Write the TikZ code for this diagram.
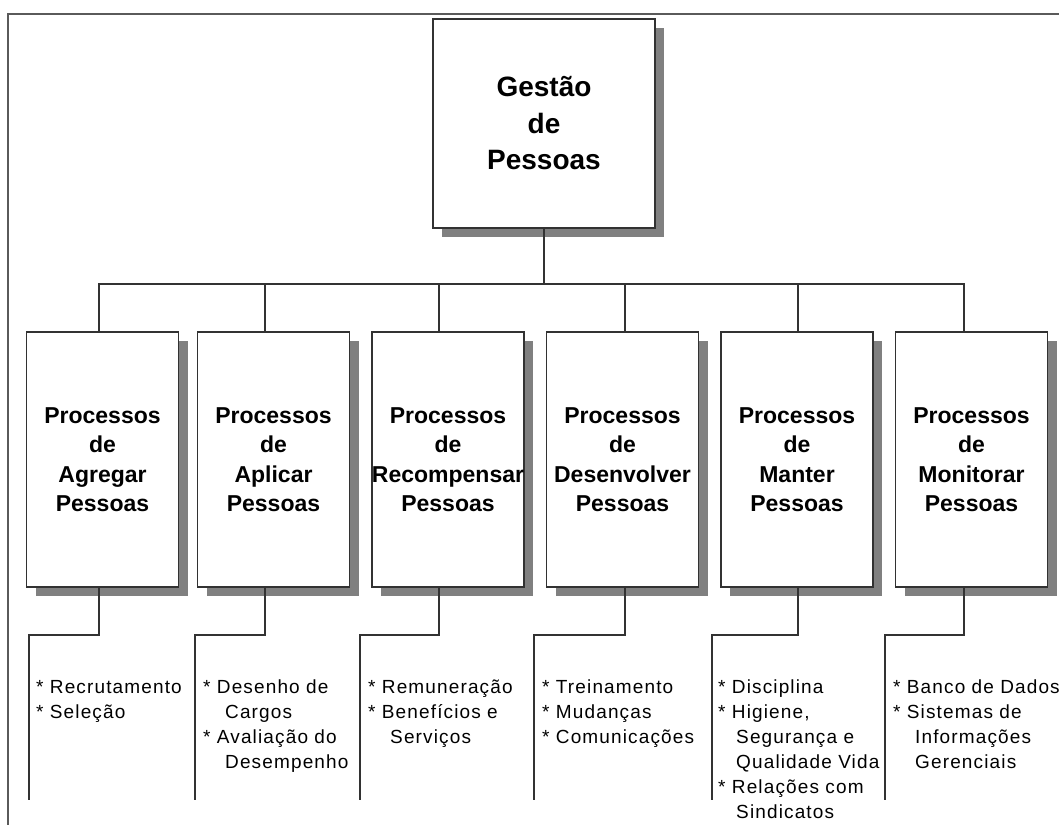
\documentclass[tikz,border=0pt]{standalone}
\usepackage{fontspec}
\setmainfont{Liberation Sans}
\newfontfamily\itemfont[LetterSpace=6]{Liberation Sans}
\usepackage{xcolor}
\usetikzlibrary{positioning,shadows}
\definecolor{linegray}{RGB}{50,50,50}
\definecolor{framegray}{RGB}{90,90,90}
\definecolor{shadegray}{RGB}{128,128,128}

\begin{document}
\begin{tikzpicture}[x=1pt, y=-1pt,
  topbox/.style={rectangle, draw=linegray, line width=1.9pt, fill=white, minimum width=222pt, minimum height=209pt, inner sep=0pt, align=center, font=\bfseries\fontsize{28}{36.5}\selectfont, drop shadow={shadow xshift=9pt, shadow yshift=-9pt, fill=shadegray, opacity=1}},
  procbox/.style={rectangle, draw=linegray, line width=1.9pt, fill=white, minimum width=152pt, minimum height=255pt, inner sep=0pt, align=center, font=\bfseries\fontsize{23}{29.5}\selectfont, drop shadow={shadow xshift=9pt, shadow yshift=-9pt, fill=shadegray, opacity=1}},
  items/.style={anchor=base west, text width=175pt, align=left, inner sep=0pt, font=\itemfont\fontsize{19}{25}\selectfont},
  link/.style={draw=linegray, line width=2pt}
]
\useasboundingbox (0,0) rectangle (1059,825);
% outer frame
\draw[framegray, line width=2pt] (1059,14) -- (8,14) -- (8,825);

\node[topbox] (gestao) at (544,123.5) {Gestão\\de\\Pessoas};

\node[procbox] (agregar) at (102.5,459.5) {Processos\\de\\Agregar\\Pessoas};
\node[procbox] (aplicar) at (273.5,459.5) {Processos\\de\\Aplicar\\Pessoas};
\node[procbox] (recompensar) at (448,459.5) {Processos\\de\\Recompensar\\Pessoas};
\node[procbox] (desenvolver) at (622.5,459.5) {Processos\\de\\Desenvolver\\Pessoas};
\node[procbox] (manter) at (797,459.5) {Processos\\de\\Manter\\Pessoas};
\node[procbox] (monitorar) at (971.5,459.5) {Processos\\de\\Monitorar\\Pessoas};

\coordinate (bus) at (0,284);
\coordinate (elbow) at (0,635);
\draw[link] (gestao.south) -- (gestao.south |- bus) -| ([xshift=-3.5pt]agregar.north);
\draw[link] (gestao.south) -- (gestao.south |- bus) -| ([xshift=-8.5pt]aplicar.north);
\draw[link] (gestao.south) -- (gestao.south |- bus) -| ([xshift=-9pt]recompensar.north);
\draw[link] (gestao.south) -- (gestao.south |- bus) -| ([xshift=2pt]desenvolver.north);
\draw[link] (gestao.south) -- (gestao.south |- bus) -| ([xshift=1pt]manter.north);
\draw[link] (gestao.south) -- (gestao.south |- bus) -| ([xshift=-8pt]monitorar.north);

% lines down to the lists
\coordinate (agregarend) at (29,800);
\coordinate (aplicarend) at (195,800);
\coordinate (recompensarend) at (360,800);
\coordinate (desenvolverend) at (534,800);
\coordinate (manterend) at (712,800);
\coordinate (monitorarend) at (885,800);
\draw[link] ([xshift=-3.5pt]agregar.south) -- ([xshift=-3.5pt]agregar.south |- elbow) -| (agregarend);
\draw[link] ([xshift=-8.5pt]aplicar.south) -- ([xshift=-8.5pt]aplicar.south |- elbow) -| (aplicarend);
\draw[link] ([xshift=-9pt]recompensar.south) -- ([xshift=-9pt]recompensar.south |- elbow) -| (recompensarend);
\draw[link] ([xshift=2pt]desenvolver.south) -- ([xshift=2pt]desenvolver.south |- elbow) -| (desenvolverend);
\draw[link] ([xshift=1pt]manter.south) -- ([xshift=1pt]manter.south |- elbow) -| (manterend);
\draw[link] ([xshift=-8pt]monitorar.south) -- ([xshift=-8pt]monitorar.south |- elbow) -| (monitorarend);

\node[items] (agregarlist) at (36,693) {* Recrutamento\\{*} Seleção};
\node[items] (aplicarlist) at (203,693) {* Desenho de\\\hspace*{22pt}Cargos\\{*} Avaliação do\\\hspace*{22pt}Desempenho};
\node[items] (recompensarlist) at (368,693) {* Remuneração\\{*} Benefícios e\\\hspace*{22pt}Serviços};
\node[items] (desenvolverlist) at (542,693) {* Treinamento\\{*} Mudanças\\{*} Comunicações};
\node[items] (manterlist) at (718,693) {* Disciplina\\{*} Higiene,\\\hspace*{18pt}Segurança e\\\hspace*{18pt}Qualidade Vida\\{*} Relações com\\\hspace*{18pt}Sindicatos};
\node[items] (monitorarlist) at (893,693) {* Banco de Dados\\{*} Sistemas de\\\hspace*{22pt}Informações\\\hspace*{22pt}Gerenciais};
\end{tikzpicture}
\end{document}
